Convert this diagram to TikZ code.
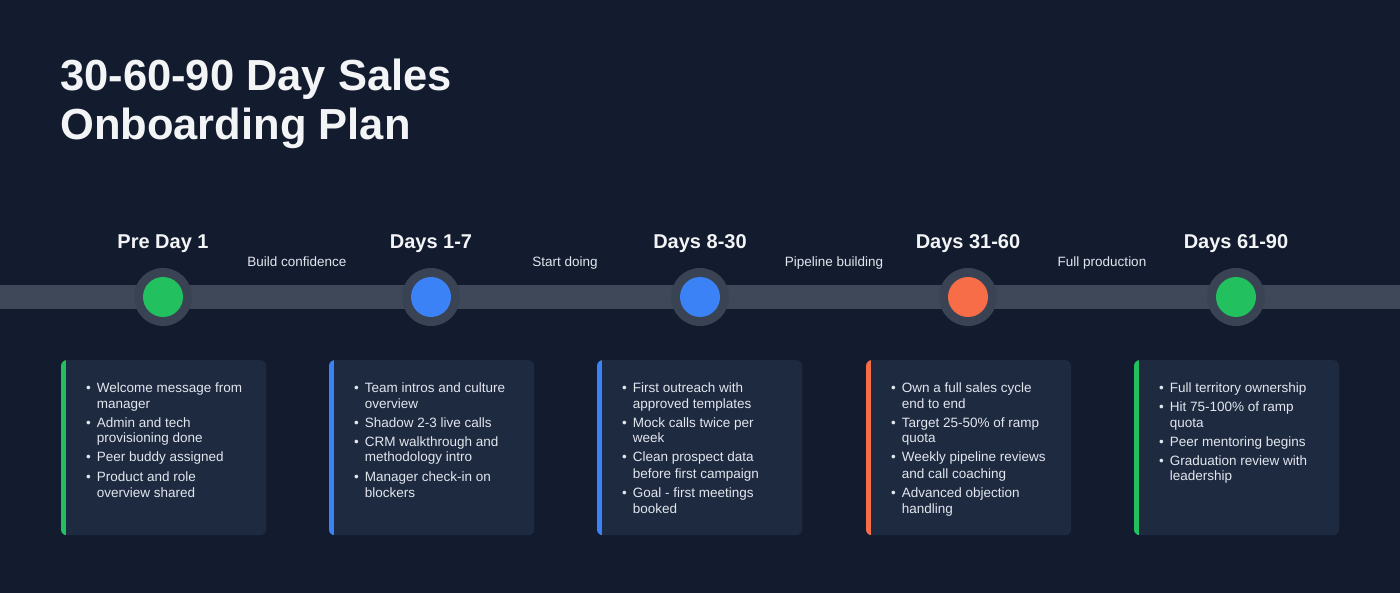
\documentclass[tikz,border=0pt]{standalone}
\usepackage{fontspec}
\setmainfont{Liberation Sans}
\usetikzlibrary{calc}
\definecolor{bg}{HTML}{131C2F}
\definecolor{bar}{HTML}{3E4859}
\definecolor{ring}{HTML}{394354}
\definecolor{cardfill}{HTML}{1E2A40}
\definecolor{cgreen}{HTML}{22C05E}
\definecolor{cblue}{HTML}{3B82F6}
\definecolor{corange}{HTML}{F76D47}
\definecolor{txt}{HTML}{F3F4F6}
\definecolor{ctxt}{HTML}{E2E6EE}
\newcommand{\cardlist}[1]{{\fontsize{13.5}{16}\selectfont\begin{tabular}[t]{@{}l@{\hspace{6pt}}l@{}}#1\end{tabular}}}
\tikzset{
  x=1pt, y=-1pt,
  phase/.style={font=\bfseries\fontsize{20}{24}\selectfont, text=txt, anchor=base, inner sep=0},
  gap/.style={font=\fontsize{13.5}{16}\selectfont, text=ctxt, anchor=base, inner sep=0},
  ringnode/.style={circle, fill=ring, minimum size=58pt, inner sep=0},
  dotnode/.style={circle, minimum size=40pt, inner sep=0},
  card/.style={fill=cardfill, rounded corners=6pt, minimum width=205pt, minimum height=175pt, inner sep=0, anchor=north west},
  cardtext/.style={text=ctxt, anchor=base west, inner sep=0},
}
\begin{document}
\begin{tikzpicture}
\fill[bg] (0,0) rectangle (1400,593);
\useasboundingbox (0,0) rectangle (1400,593);

% title
\node[anchor=base west, inner sep=0, text=txt, font=\bfseries\fontsize{43.5}{49}\selectfont, align=left] (title) at (60,140) {30-60-90 Day Sales\\Onboarding Plan};

% timeline bar
\coordinate (barL) at (0,297);
\coordinate (barR) at (1400,297);
\draw[bar, line width=24pt] (barL) -- (barR);

% rings and dots
\foreach \n/\x/\c in {1/163/cgreen, 2/431/cblue, 3/700/cblue, 4/968/corange, 5/1236/cgreen}{
  \node[ringnode] (r\n) at (\x,297) {};
  \node[dotnode, fill=\c] (d\n) at (\x,297) {};
}

% phase labels
\node[phase] (p1) at (163,249) {Pre Day 1};
\node[phase] (p2) at (431,249) {Days 1-7};
\node[phase] (p3) at (700,249) {Days 8-30};
\node[phase] (p4) at (968,249) {Days 31-60};
\node[phase] (p5) at (1236,249) {Days 61-90};

% transition labels
\node[gap] (g1) at (297,267) {Build confidence};
\node[gap] (g2) at (565,267) {Start doing};
\node[gap] (g3) at (834,267) {Pipeline building};
\node[gap] (g4) at (1102,267) {Full production};

% cards
\foreach \n/\x/\c in {1/61/cgreen, 2/329/cblue, 3/597/cblue, 4/866/corange, 5/1134/cgreen}{
  \node[card] (c\n) at (\x,360) {};
  \begin{scope}
    \clip[rounded corners=6pt] (c\n.north west) rectangle (c\n.south east);
    \fill[\c] (c\n.north west) rectangle ([xshift=5pt]c\n.south west);
  \end{scope}
}

\node[cardtext] (t1) at ([xshift=25pt]c1.west |- 0,392) {\cardlist{%
\textbullet & Welcome message from\\ & manager\\[3pt]
\textbullet & Admin and tech\\ & provisioning done\\[3pt]
\textbullet & Peer buddy assigned\\[3pt]
\textbullet & Product and role\\ & overview shared}};

\node[cardtext] (t2) at ([xshift=25pt]c2.west |- 0,392) {\cardlist{%
\textbullet & Team intros and culture\\ & overview\\[3pt]
\textbullet & Shadow 2-3 live calls\\[3pt]
\textbullet & CRM walkthrough and\\ & methodology intro\\[3pt]
\textbullet & Manager check-in on\\ & blockers}};

\node[cardtext] (t3) at ([xshift=25pt]c3.west |- 0,392) {\cardlist{%
\textbullet & First outreach with\\ & approved templates\\[3pt]
\textbullet & Mock calls twice per\\ & week\\[3pt]
\textbullet & Clean prospect data\\ & before first campaign\\[3pt]
\textbullet & Goal - first meetings\\ & booked}};

\node[cardtext] (t4) at ([xshift=25pt]c4.west |- 0,392) {\cardlist{%
\textbullet & Own a full sales cycle\\ & end to end\\[3pt]
\textbullet & Target 25-50\% of ramp\\ & quota\\[3pt]
\textbullet & Weekly pipeline reviews\\ & and call coaching\\[3pt]
\textbullet & Advanced objection\\ & handling}};

\node[cardtext] (t5) at ([xshift=25pt]c5.west |- 0,392) {\cardlist{%
\textbullet & Full territory ownership\\[3pt]
\textbullet & Hit 75-100\% of ramp\\ & quota\\[3pt]
\textbullet & Peer mentoring begins\\[3pt]
\textbullet & Graduation review with\\ & leadership}};
\end{tikzpicture}
\end{document}
